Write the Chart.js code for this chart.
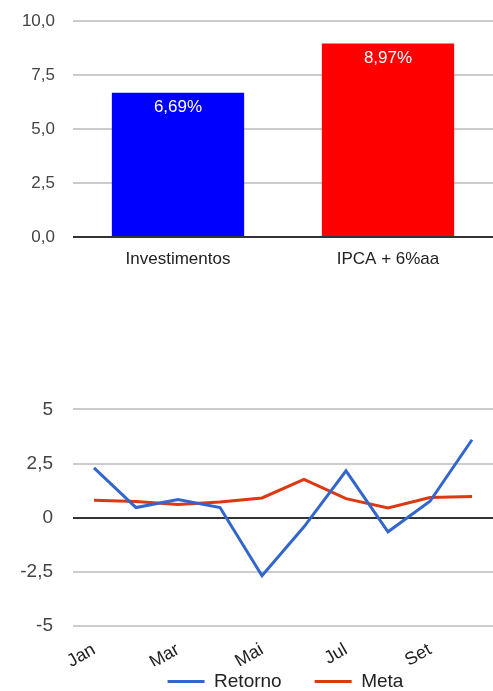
<!DOCTYPE html>
<html>
<head>
<meta charset="utf-8">
<script src="https://cdn.jsdelivr.net/npm/chart.js@4"></script>
<style>
  html, body { margin: 0; padding: 0; background: #fff; overflow: hidden; }
  .box { position: absolute; left: 0; width: 493px; }
  #top { top: -7px; height: 287px; }
  #bottom { top: 378px; height: 350px; }
</style>
</head>
<body>
<div class="box" id="top"><canvas id="barChart"></canvas></div>
<div class="box" id="bottom"><canvas id="lineChart"></canvas></div>
<script>
const barLabels = ['Investimentos', 'IPCA + 6%aa'];
const barValues = [6.69, 8.97];
const barColors = ['#0000ff', '#ff0000'];

const months = ['Jan', 'Fev', 'Mar', 'Abr', 'Mai', 'Jun', 'Jul', 'Ago', 'Set', 'Out'];
const retorno = [2.3, 0.47, 0.84, 0.47, -2.68, -0.42, 2.16, -0.65, 0.76, 3.6];
const meta = [0.81, 0.75, 0.61, 0.73, 0.91, 1.77, 0.88, 0.45, 0.93, 0.98];

const FONT = 'Arial, "Liberation Sans", sans-serif';

function gridColor(c) {
  return c.tick && c.tick.value === 0 ? '#333333' : '#cccccc';
}

// escreve o valor dentro da barra, perto do topo
const barValuePlugin = {
  id: 'barValue',
  afterDatasetsDraw(chart) {
    const ctx = chart.ctx;
    const meta = chart.getDatasetMeta(0);
    ctx.save();
    ctx.fillStyle = '#ffffff';
    ctx.font = '17px ' + FONT;
    ctx.textAlign = 'center';
    ctx.textBaseline = 'top';
    meta.data.forEach((bar, i) => {
      const txt = barValues[i].toFixed(2).replace('.', ',') + '%';
      ctx.fillText(txt, bar.x, bar.y + 6);
    });
    ctx.restore();
  }
};

// legenda centralizada sobre a area do grafico, logo abaixo dos meses
const legendShift = {
  id: 'legendShift',
  afterLayout(chart) {
    if (!chart.legend) return;
    chart.legend.left = chart.chartArea.left + 5;
    chart.legend.top = chart.chartArea.bottom + 13;
  }
};

new Chart(document.getElementById('barChart'), {
  type: 'bar',
  data: {
    labels: barLabels,
    datasets: [{
      data: barValues,
      backgroundColor: barColors,
      categoryPercentage: 1,
      barPercentage: 0.63
    }]
  },
  options: {
    responsive: true,
    maintainAspectRatio: false,
    animation: false,
    layout: { padding: { top: 13, left: 0, right: 0, bottom: 0 } },
    plugins: { legend: { display: false }, tooltip: { enabled: false } },
    scales: {
      x: {
        grid: { display: false },
        border: { display: false },
        ticks: { color: '#222', font: { family: FONT, size: 17 }, padding: 4 },
        afterFit: s => { s.height = 43; }
      },
      y: {
        min: 0,
        max: 10,
        grid: { color: gridColor, lineWidth: 2, drawTicks: false },
        border: { display: false },
        ticks: {
          stepSize: 2.5,
          color: '#444',
          font: { family: FONT, size: 17 },
          padding: 18,
          callback: v => v.toFixed(1).replace('.', ',')
        },
        afterFit: s => { s.width = 73; }
      }
    }
  },
  plugins: [barValuePlugin]
});

new Chart(document.getElementById('lineChart'), {
  type: 'line',
  data: {
    labels: months,
    datasets: [
      { label: 'Retorno', data: retorno, borderColor: '#3366cc', backgroundColor: '#3366cc', borderWidth: 3, pointRadius: 0, tension: 0 },
      { label: 'Meta', data: meta, borderColor: '#dc3912', backgroundColor: '#dc3912', borderWidth: 3, pointRadius: 0, tension: 0 }
    ]
  },
  options: {
    responsive: true,
    maintainAspectRatio: false,
    animation: false,
    layout: { padding: { top: 7, left: 0, right: 0, bottom: 0 } },
    plugins: {
      tooltip: { enabled: false },
      legend: {
        position: 'bottom',
        labels: {
          usePointStyle: true,
          pointStyle: 'line',
          pointStyleWidth: 37,
          color: '#222',
          font: { family: FONT, size: 19 },
          padding: 33
        }
      }
    },
    scales: {
      x: {
        offset: true,
        grid: { display: false },
        border: { display: false },
        ticks: {
          autoSkip: false,
          minRotation: 30,
          maxRotation: 30,
          color: '#222',
          font: { family: FONT, size: 18 },
          padding: 5,
          callback: (v, i) => (i % 2 === 0 ? months[i] : '')
        },
        afterFit: s => { s.height = 40; }
      },
      y: {
        min: -5,
        max: 5,
        grid: { color: gridColor, lineWidth: 2, drawTicks: false },
        border: { display: false },
        ticks: {
          stepSize: 2.5,
          color: '#444',
          font: { family: FONT, size: 19 },
          padding: 20,
          callback: v => String(v).replace('.', ',')
        },
        afterFit: s => { s.width = 73; }
      }
    }
  },
  plugins: [legendShift]
});
</script>
</body>
</html>
